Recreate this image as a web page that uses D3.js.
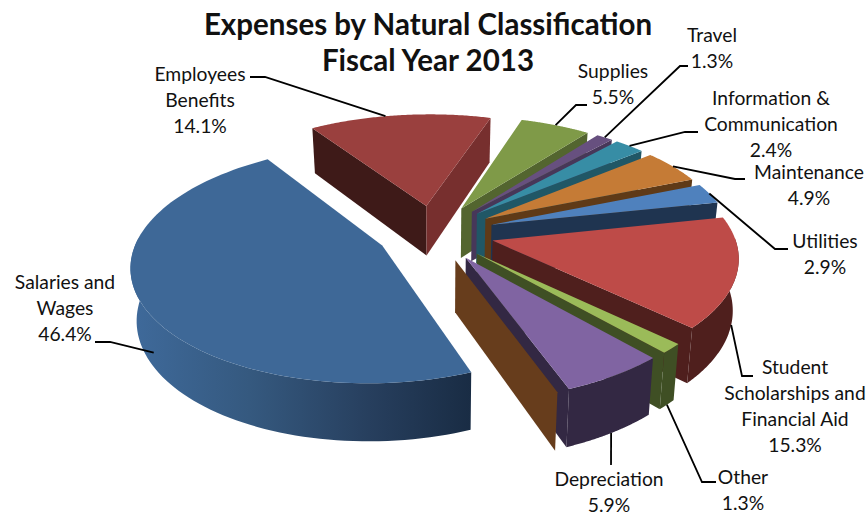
<!DOCTYPE html>
<html>
<head>
<meta charset="utf-8">
<script src="https://cdn.jsdelivr.net/npm/d3@7"></script>
<style>
  html, body { margin: 0; padding: 0; background: #fff; }
  svg { display: block; }
  text { font-family: Lato, "Open Sans", sans-serif; fill: #111; }
</style>
</head>
<body>
<div id="chart"></div>
<script>
// Expense shares, percent of the fiscal-year total. The last entry has no value of
// its own: it is an empty category that only shows up as its two coinciding walls.
const categories = ["Salaries and Wages", "Employees Benefits", "Supplies", "Travel",
  "Information & Communication", "Maintenance", "Utilities",
  "Student Scholarships and Financial Aid", "Other", "Depreciation", ""];
const shares = [46.4, 14.1, 5.5, 1.3, 2.4, 4.9, 2.9, 15.3, 1.3, 5.9, 0];
const titleLines = ["Expenses by Natural Classification", "Fiscal Year 2013"];

const topColors   = ["#3E6897", "#9A403E", "#7F9A48", "#67507F", "#378DA5", "#C57B36", "#4F81BD", "#BE4B48", "#9BBB59", "#8064A2", "#673D1C"];
const startWalls  = ["#2F4F76", "#3E1A18", "#53652F", "#473759", "#205766", "#5F3A17", "#1F3450", "#4F1F1D", "#3F4F24", "#332843", "#673D1C"];
const endWalls    = ["#2F4F76", "#772F2E", "#53652F", "#473759", "#205766", "#5F3A17", "#1F3450", "#4F1F1D", "#3F4F24", "#332843", "#673D1C"];
const arcWalls    = ["url(#salaryWall)", "#772F2E", "#53652F", "#473759", "#205766", "#5F3A17", "#1F3450", "#4F1F1D", "#3F4F24", "#332843", "#673D1C"];

const width = 868, height = 515;

// Camera: ground plane (X right, Y away from the viewer, unit radius) plus a wall depth z in 0..1.
const cam = { cx: 434, cy: 233, vx: 510, R: 242, B: 113, H: 50.7, px: 0.14, py: 0.15, pz: 0.114, bx: 440, converge: 0.02, roll: 0.012 };
const explodeBy = i => (i === 0 ? 0.235 : 0.25);
const firstAngle = 157.5 * Math.PI / 180;

const groundX = d3.scaleLinear().domain([-1, 1]).range([cam.cx - cam.vx - cam.R, cam.cx - cam.vx + cam.R]);
const groundY = d3.scaleLinear().domain([-1, 1]).range([-cam.B, cam.B]);

function project(X, Y, z) {
  const x0 = cam.vx + groundX(X) / (1 + cam.px * Y);
  const x = cam.bx + (x0 - cam.bx) * (1 - cam.converge * z);
  const y = cam.cy - groundY(Y) / (1 + cam.py * Y) + cam.H * z / (1 + cam.pz * Y) + cam.roll * (x0 - cam.cx);
  return [x, y];
}

const pie = d3.pie().sort(null).value(d => d)
  .startAngle(firstAngle).endAngle(firstAngle + 2 * Math.PI);

const slices = pie(shares).map((p, i) => {
  const mid = (p.startAngle + p.endAngle) / 2;
  const e = explodeBy(i);
  return { i, a0: p.startAngle, a1: p.endAngle, mid, ox: e * Math.sin(mid), oy: e * Math.cos(mid) };
});

const rimPoint = (s, a, z) => project(s.ox + Math.sin(a), s.oy + Math.cos(a), z);
const apexPoint = (s, z) => project(s.ox, s.oy, z);
const rimAngles = s => d3.range(0, 97).map(k => s.a0 + (s.a1 - s.a0) * k / 96);
const path = d3.line();

const svg = d3.select("#chart").append("svg").attr("width", width).attr("height", height);

const grad = svg.append("defs").append("linearGradient").attr("id", "salaryWall");
[["0%", "#3F6A9B"], ["35%", "#35597F"], ["70%", "#273F5E"], ["100%", "#192C44"]]
  .forEach(([o, c]) => grad.append("stop").attr("offset", o).attr("stop-color", c));

// Painter's order: slices lying farther from the viewer go down first.
const order = slices.slice().sort((a, b) => d3.descending(a.oy, b.oy));

const groups = svg.append("g").selectAll("g").data(order).join("g");

function wallPath(s, a) {
  return path([apexPoint(s, 0), rimPoint(s, a, 0), rimPoint(s, a, 1), apexPoint(s, 1)]) + "Z";
}

// Only walls turned toward the viewer are drawn: the rim's near half and radial faces looking downward.
groups.filter(s => Math.sin(s.a0) < 0).append("path")
  .attr("d", s => wallPath(s, s.a0)).attr("fill", s => startWalls[s.i]);
groups.filter(s => Math.sin(s.a1) > 0).append("path")
  .attr("d", s => wallPath(s, s.a1)).attr("fill", s => endWalls[s.i]);
groups.append("path")
  .attr("d", s => {
    const angles = rimAngles(s).filter(a => Math.cos(a) < 0.05);
    if (angles.length < 2) return null;
    return path(angles.map(a => rimPoint(s, a, 0)).concat(angles.slice().reverse().map(a => rimPoint(s, a, 1)))) + "Z";
  })
  .attr("fill", s => arcWalls[s.i]);
groups.filter(s => shares[s.i] > 0).append("path")
  .attr("d", s => path([apexPoint(s, 0)].concat(rimAngles(s).map(a => rimPoint(s, a, 0)))) + "Z")
  .attr("fill", s => topColors[s.i]);

// Label blocks and the elbow of each leader; the leader's far end sits on its slice.
const labelLayout = [
  { i: 0, lines: ["Salaries and", "Wages"], x: 65, y: 289, elbow: [[110, 342], [95, 342]], along: 0.47, z: 0.7 },
  { i: 1, lines: ["Employees", "Benefits"], x: 200, y: 81, elbow: [[265, 77], [250, 77]], along: 0.42, z: 0 },
  { i: 2, lines: ["Supplies"], x: 613, y: 78, elbow: [[576, 105], [587, 105]], along: 0.5, z: 0 },
  { i: 3, lines: ["Travel"], x: 712, y: 42, elbow: [[680, 66], [688, 66]], along: 0.5, z: 0 },
  { i: 4, lines: ["Information &", "Communication"], x: 771, y: 105, elbow: [[685, 132], [698, 132]], along: 0.5, z: 0 },
  { i: 5, lines: ["Maintenance"], x: 809, y: 179, elbow: [[735, 179], [745, 179]], along: 0.5, z: 0 },
  { i: 6, lines: ["Utilities"], x: 825, y: 248, elbow: [[775, 249], [788, 249]], along: 0.5, z: 0 },
  { i: 7, lines: ["Student", "Scholarships and", "Financial Aid"], x: 795, y: 374, elbow: [[742, 376], [753, 376]], along: 0.5, z: 1 },
  { i: 8, lines: ["Other"], x: 743, y: 484, elbow: [[702, 482], [716, 482]], along: 0.5, z: 1 },
  { i: 9, lines: ["Depreciation"], x: 609, y: 486, elbow: [[611, 465]], along: 0.5, z: 1 }
];

const leaders = svg.append("g").attr("fill", "none").attr("stroke", "#000").attr("stroke-width", 1.8);
labelLayout.forEach(l => {
  const s = slices[l.i];
  const a = s.a0 + (s.a1 - s.a0) * l.along;
  leaders.append("path").attr("d", path([rimPoint(s, a, l.z)].concat(l.elbow)));
});

const labels = svg.append("g").attr("font-size", 19.3).attr("text-anchor", "middle");
labelLayout.forEach(l => {
  const t = labels.append("text").attr("x", l.x).attr("y", l.y);
  l.lines.concat([d3.format(".1f")(shares[l.i]) + "%"]).forEach((line, k) => {
    t.append("tspan").attr("x", l.x).attr("dy", k ? 26 : 0).text(line);
  });
});

const title = svg.append("text").attr("x", 428).attr("y", 35)
  .attr("text-anchor", "middle").attr("font-size", 29.5).attr("font-weight", 700);
titleLines.forEach((line, k) => {
  title.append("tspan").attr("x", 428).attr("dy", k ? 36 : 0).text(line);
});
</script>
</body>
</html>
